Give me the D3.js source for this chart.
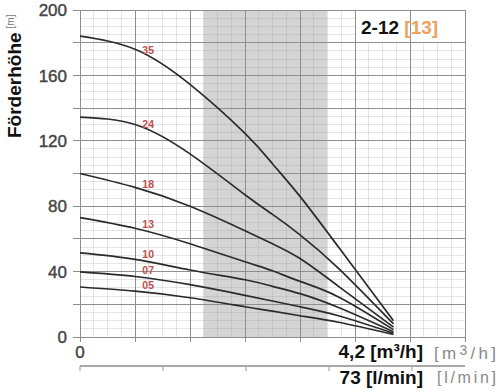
<!DOCTYPE html>
<html><head><meta charset="utf-8">
<script src="https://cdn.jsdelivr.net/npm/d3@7"></script>
<style>
html,body{margin:0;padding:0;background:#fff;}
svg{display:block;font-family:"Liberation Sans",Arial,sans-serif;}
</style></head>
<body>
<svg id="c" width="500" height="392"></svg>
<script>
// ---- data ----
const flowQ = [0, 1, 2, 3, 3.5, 4, 4.7, 5.7];   // flow (grid units)
const stageLabels = ["35", "24", "18", "13", "10", "07", "05"];
const head35 = [184, 176, 154.5, 124.5, 106, 86, 55, 10];
const head24 = [134.5, 130, 112, 87, 75, 62.5, 42, 8];
const head18 = [100, 91.5, 80, 65, 57, 48, 31, 6];
const head13 = [73, 66.5, 57, 46, 40.5, 34, 24.5, 4.5];
const head10 = [51.4, 47.5, 41, 35, 31, 26.5, 18, 3.2];
const head07 = [39.8, 37, 32, 25.5, 22, 18.5, 13, 2.3];
const head05 = [30.6, 28, 24, 18.5, 15.8, 13, 9, 1.6];
const heads = [head35, head24, head18, head13, head10, head07, head05];
const yTickLabels = [0, 40, 80, 120, 160, 200];
const bandRange = [2.25, 4.49];   // shaded operating range
const labelQ = 1.24;
const titleMain = "2-12 ";
const titleSub = "[13]";

// ---- scales ----
const svg = d3.select("#c");
const x = d3.scaleLinear().domain([0, 7]).range([80, 465]);
const y = d3.scaleLinear().domain([0, 200]).range([337, 10]);

// shaded band
svg.append("rect")
  .attr("x", x(bandRange[0])).attr("y", y(200))
  .attr("width", x(bandRange[1]) - x(bandRange[0]))
  .attr("height", y(0) - y(200))
  .attr("fill", "#d4d4d4");

// minor grid
const g = svg.append("g");
d3.range(0, 7.001, 0.25).forEach(v => {
  g.append("line").attr("x1", x(v)).attr("x2", x(v)).attr("y1", y(0)).attr("y2", y(200))
   .attr("stroke", "rgba(150,150,150,0.25)").attr("stroke-width", 1).attr("shape-rendering", "crispEdges");
});
d3.range(0, 200.001, 5).forEach(v => {
  g.append("line").attr("y1", y(v)).attr("y2", y(v)).attr("x1", x(0)).attr("x2", x(7))
   .attr("stroke", "rgba(150,150,150,0.25)").attr("stroke-width", 1).attr("shape-rendering", "crispEdges");
});

// title box (covers grid)
svg.append("rect").attr("x", x(5)).attr("y", y(200)).attr("width", x(7) - x(5)).attr("height", y(180) - y(200))
  .attr("fill", "#fff");

// major grid
d3.range(0, 7.001, 1).forEach(v => {
  svg.append("line").attr("x1", x(v)).attr("x2", x(v)).attr("y1", y(0) + 5).attr("y2", y(200))
   .attr("stroke", "#8f8f8f").attr("stroke-width", 1).attr("shape-rendering", "crispEdges");
});
d3.range(0, 200.001, 20).forEach(v => {
  svg.append("line").attr("y1", y(v)).attr("y2", y(v)).attr("x1", x(0) - 7).attr("x2", x(7))
   .attr("stroke", "#8f8f8f").attr("stroke-width", 1).attr("shape-rendering", "crispEdges");
});

// title
const t = svg.append("text").attr("x", 361).attr("y", 34)
  .attr("font-size", 19).attr("font-weight", "bold");
t.append("tspan").attr("fill", "#111").text(titleMain);
t.append("tspan").attr("fill", "#eda25e").text(titleSub);

// curves
const line = d3.line().x((d, i) => x(flowQ[i])).y(d => y(d)).curve(d3.curveNatural);
heads.forEach(h => {
  svg.append("path").attr("d", line(h)).attr("fill", "none")
    .attr("stroke", "#2b2b2b").attr("stroke-width", 1.7);
});

// curve labels
heads.forEach((h, k) => {
  const i = d3.bisectRight(flowQ, labelQ) - 1;
  const f = (labelQ - flowQ[i]) / (flowQ[i + 1] - flowQ[i]);
  const hv = h[i] + f * (h[i + 1] - h[i]);
  svg.append("text").attr("x", x(labelQ)).attr("y", y(hv) - 4)
    .attr("text-anchor", "middle").attr("font-size", 10.5).attr("font-weight", "bold")
    .attr("fill", "#c0504d").text(stageLabels[k]);
});

// y tick labels
yTickLabels.forEach(v => {
  svg.append("text").attr("x", 67).attr("y", y(v)).attr("dy", "0.36em")
    .attr("text-anchor", "end").attr("font-size", 17).attr("fill", "#444")
    .attr("stroke", "#444").attr("stroke-width", 0.4)
    .text(v);
});

// y axis title
const yt = svg.append("text").attr("transform", "translate(21,138) rotate(-90)")
  .attr("font-size", 19).attr("font-weight", "bold").attr("fill", "#111");
yt.append("tspan").text("Förderhöhe");
yt.append("tspan").attr("dx", 4).attr("dy", -7).attr("font-size", 10).attr("font-weight", "normal")
  .attr("fill", "#777").text("[m]");

// x origin label
svg.append("text").attr("x", x(0)).attr("y", 358).attr("text-anchor", "middle")
  .attr("font-size", 17).attr("fill", "#444").attr("stroke", "#444").attr("stroke-width", 0.4).text("0");

// secondary axis (l/min)
const x2 = d3.scaleLinear().domain([0, 4]).range([80, 412]);
svg.append("line").attr("x1", 80).attr("x2", 465).attr("y1", 366).attr("y2", 366)
  .attr("stroke", "#a8a8a8").attr("stroke-width", 2);
d3.range(0, 5).forEach(v => {
  svg.append("line").attr("x1", x2(v)).attr("x2", x2(v)).attr("y1", 366).attr("y2", 371)
    .attr("stroke", "#a8a8a8").attr("stroke-width", 1.2);
});

// unit labels
svg.append("text").attr("x", 423).attr("y", 358).attr("text-anchor", "end")
  .attr("font-size", 19).attr("font-weight", "bold").attr("fill", "#111").text("4,2 [m³/h]");
const u1g = svg.append("text").attr("x", 434).attr("y", 359)
  .attr("font-size", 17).attr("fill", "#8a8a8a").attr("textLength", 62).attr("lengthAdjust", "spacing");
u1g.append("tspan").text("[m");
u1g.append("tspan").attr("dy", -4).attr("font-size", 14).text("3");
u1g.append("tspan").attr("dy", 4).text("/h]");

svg.append("text").attr("x", 423).attr("y", 384).attr("text-anchor", "end")
  .attr("font-size", 19).attr("font-weight", "bold").attr("fill", "#111").text("73 [l/min]");
svg.append("text").attr("x", 437).attr("y", 383)
  .attr("font-size", 16).attr("fill", "#8a8a8a").attr("textLength", 59).attr("lengthAdjust", "spacing")
  .text("[l/min]");
</script>
</body></html>
